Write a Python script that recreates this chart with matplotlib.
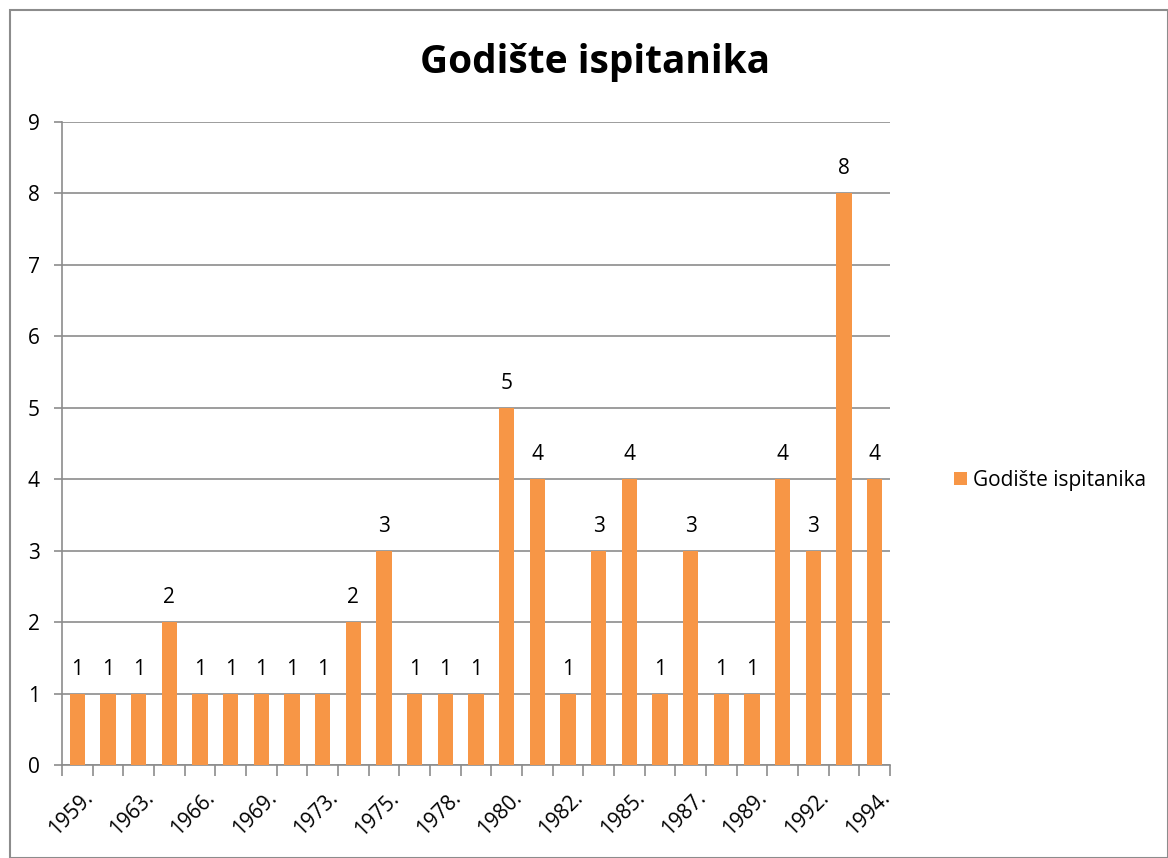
import numpy as np
import matplotlib.pyplot as plt
from matplotlib.patches import Rectangle

years = ["1959.", "1961.", "1963.", "1965.", "1966.", "1967.", "1969.", "1971.",
         "1973.", "1974.", "1975.", "1977.", "1978.", "1979.", "1980.", "1981.",
         "1982.", "1984.", "1985.", "1986.", "1987.", "1988.", "1989.", "1991.",
         "1992.", "1993.", "1994."]
counts = [1, 1, 1, 2, 1, 1, 1, 1, 1, 2, 3, 1, 1, 1, 5, 4, 1, 3, 4, 1, 3, 1, 1, 4, 3, 8, 4]
series_name = "Godište ispitanika"

plt.rcParams['font.family'] = ['Open Sans', 'DejaVu Sans']

fig = plt.figure(figsize=(11.68, 8.58), dpi=100)
ax = fig.add_axes([0.053, 0.108, 0.709, 0.750])

x = np.arange(len(counts))
ax.bar(x, counts, width=0.5, color="#F79646", label=series_name, zorder=3)
for xi, v in zip(x, counts):
    ax.text(xi, v + 0.2, str(v), ha="center", va="bottom", fontsize=15)

ax.set_xlim(-0.5, len(counts) - 0.5)
ax.set_ylim(0, 9)
ax.set_yticks(range(10))
ax.yaxis.grid(True, color="#8c8c8c", linewidth=1.2, zorder=0)

ax.set_xticks(x[::2] + 0.15)
ax.set_xticklabels(years[::2], rotation=45, ha="right", rotation_mode="anchor", fontsize=15)
ax.tick_params(axis="x", which="major", length=0, pad=16)
ax.set_xticks(np.arange(len(counts) + 1) - 0.5, minor=True)
ax.tick_params(axis="x", which="minor", length=8, color="#8c8c8c", width=1.2)
ax.tick_params(axis="y", length=6, color="#8c8c8c", width=1.2, labelsize=15, pad=10)

for side in ["top", "right"]:
    ax.spines[side].set_visible(False)
for side in ["left", "bottom"]:
    ax.spines[side].set_color("#8c8c8c")
    ax.spines[side].set_linewidth(1.2)

fig.text(595 / 1168, 1 - 62 / 858, series_name, ha="center", va="center",
         fontsize=28, fontweight="bold")

ax.legend(loc="center left", bbox_to_anchor=(1.055, 0.443), frameon=False,
          fontsize=15, handlelength=0.6, handleheight=0.6, handletextpad=0.3)

fig.patches.append(Rectangle((10 / 1168, 0), 1 - 10 / 1168, 1 - 10 / 858,
                             transform=fig.transFigure, fill=False,
                             edgecolor="#8c8c8c", linewidth=1.5))

fig.savefig("out.png", dpi=100)
